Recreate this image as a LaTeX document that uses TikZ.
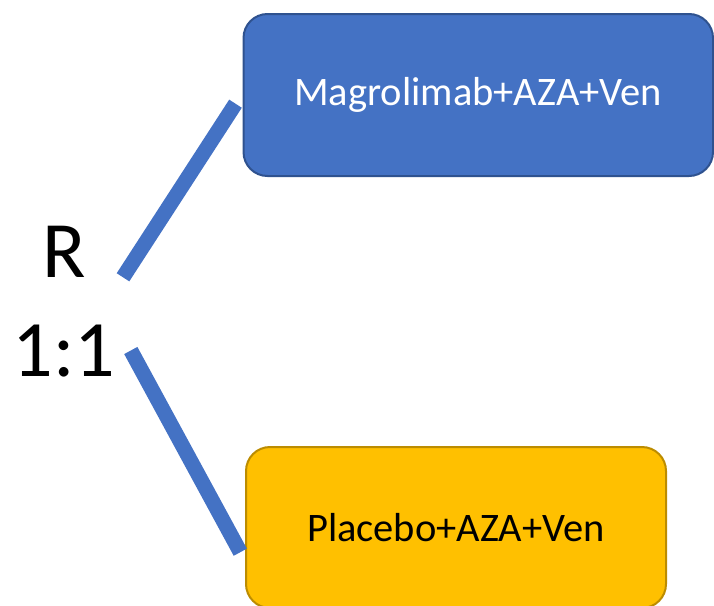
\documentclass[tikz,border=0pt]{standalone}
\usepackage{fontspec}
\setmainfont{Carlito}
\definecolor{boxblue}{HTML}{4472C4}
\definecolor{blueedge}{HTML}{2F528F}
\definecolor{boxgold}{HTML}{FFC000}
\definecolor{goldedge}{HTML}{BC8C00}
\tikzset{
  armbox/.style={rounded corners=24pt, line width=2pt, inner sep=0pt, font=\fontsize{40.5}{44}\selectfont},
  armline/.style={draw=boxblue, line width=15pt, line cap=butt},
  bigtext/.style={inner sep=0pt, font=\fontsize{80}{82}\selectfont}
}
\begin{document}
\begin{tikzpicture}[x=1pt,y=-1pt]
\clip (0,0) rectangle (714,605);
\node[armbox, fill=boxblue, draw=blueedge, text=white, minimum width=469.5pt, minimum height=162pt] (mag) at (478.25,95) {Magrolimab+AZA+Ven};
\node[armbox, fill=boxgold, draw=goldedge, text=black, minimum width=420pt, minimum height=161pt] (pla) at (456,527.5) {Placebo+AZA+Ven};
\node[bigtext] (r) at (64,252) {R};
\node[bigtext] (ratio) at (64,351.4) {1:1};
\coordinate (t1) at (123,277.3);
\coordinate (t2) at (235.5,103.7);
\coordinate (b1) at (130.8,350.5);
\coordinate (b2) at (240.3,552.2);
\draw[armline] (t1) -- (t2);
\draw[armline] (b1) -- (b2);
\end{tikzpicture}
\end{document}
